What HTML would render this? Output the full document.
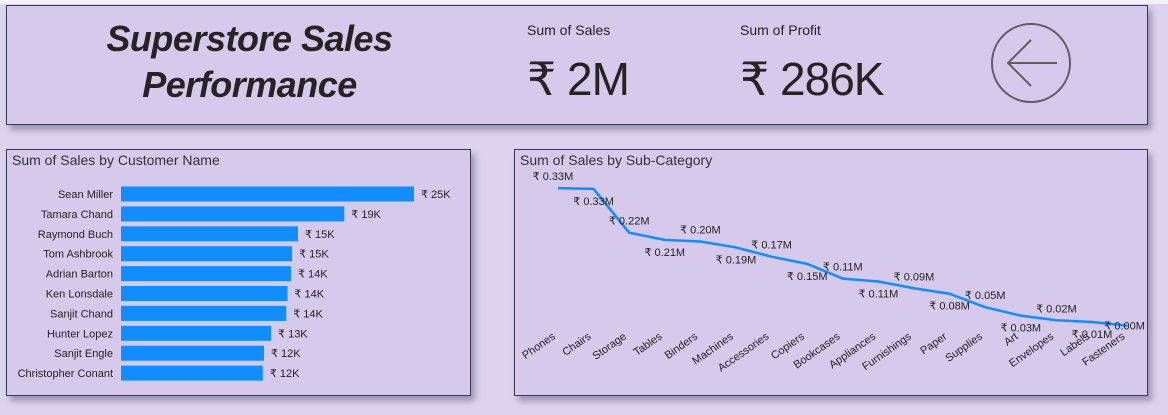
<!DOCTYPE html>
<html><head><meta charset="utf-8">
<style>
body{margin:0;width:1168px;height:415px;background:#dcd4ef;font-family:"Liberation Sans",sans-serif;position:relative;overflow:hidden}
.panel{position:absolute;background:#d5c9ec;border:1px solid #3a3a44;box-shadow:4px 5px 6px rgba(80,70,110,.45);box-sizing:border-box}
.t{position:absolute;color:#252423;white-space:nowrap}
</style></head><body>
<div style="position:absolute;left:0;top:0;width:1168px;height:4px;background:#f3f3f3"></div>
<div class="panel" style="left:6px;top:5px;width:1142px;height:120px">
  <div class="t" style="left:60px;top:10px;width:365px;text-align:center;font-size:36px;font-weight:bold;font-style:italic;line-height:46px;letter-spacing:-0.5px">Superstore Sales<br>Performance</div>
  <div class="t" style="left:520px;top:16px;font-size:14px">Sum of Sales</div>
  <div class="t" style="left:520px;top:46px;font-size:46px;letter-spacing:-1px">₹ 2M</div>
  <div class="t" style="left:733px;top:16px;font-size:14px">Sum of Profit</div>
  <div class="t" style="left:733px;top:46px;font-size:46px;letter-spacing:-1px">₹ 286K</div>
</div>
<svg style="position:absolute;left:990px;top:22px" width="82" height="82" viewBox="0 0 82 82">
  <circle cx="41" cy="41" r="39" fill="none" stroke="#605e5c" stroke-width="2"/>
  <path d="M18 41H67M41 18L18 41L41 64" fill="none" stroke="#605e5c" stroke-width="2"/>
</svg>

<div class="panel" style="left:6px;top:149px;width:465px;height:247px">
  <div class="t" style="left:5px;top:2px;font-size:14px;color:#333">Sum of Sales by Customer Name</div>
</div>
<svg id="bar" style="position:absolute;left:0;top:0" width="480" height="415"></svg>

<div class="panel" style="left:514px;top:149px;width:634px;height:247px">
  <div class="t" style="left:5px;top:2px;font-size:14px;color:#333">Sum of Sales by Sub-Category</div>
</div>
<svg id="line" style="position:absolute;left:0;top:0" width="1168" height="415"></svg>

<script>
const customers=["Sean Miller","Tamara Chand","Raymond Buch","Tom Ashbrook","Adrian Barton","Ken Lonsdale","Sanjit Chand","Hunter Lopez","Sanjit Engle","Christopher Conant"];
const customerSales=[25.0,19.05,15.1,14.6,14.5,14.2,14.1,12.8,12.2,12.1];
const customerLabels=["₹ 25K","₹ 19K","₹ 15K","₹ 15K","₹ 14K","₹ 14K","₹ 14K","₹ 13K","₹ 12K","₹ 12K"];
const subcats=["Phones","Chairs","Storage","Tables","Binders","Machines","Accessories","Copiers","Bookcases","Appliances","Furnishings","Paper","Supplies","Art","Envelopes","Labels","Fasteners"];
const subSales=[0.330,0.328,0.224,0.207,0.203,0.189,0.167,0.150,0.115,0.108,0.092,0.079,0.047,0.027,0.016,0.012,0.003];
const subLabels=["₹ 0.33M","₹ 0.33M","₹ 0.22M","₹ 0.21M","₹ 0.20M","₹ 0.19M","₹ 0.17M","₹ 0.15M","₹ 0.11M","₹ 0.11M","₹ 0.09M","₹ 0.08M","₹ 0.05M","₹ 0.03M","₹ 0.02M","₹ 0.01M","₹ 0.00M"];
const NS="http://www.w3.org/2000/svg";
function mk(p,tag,a){const e=document.createElementNS(NS,tag);for(const k in a)e.setAttribute(k,a[k]);p.appendChild(e);return e;}
const bar=document.getElementById('bar');
const bx=v=>121+v*11.72, by=i=>194+i*19.9;
customers.forEach((c,i)=>{
  const r=mk(bar,'rect',{x:121,y:by(i)-7.5,width:bx(customerSales[i])-121,height:15,fill:'#118dff'});
  
  
  const t=mk(bar,'text',{x:113,y:by(i)+4,'text-anchor':'end','font-size':11,fill:'#252423'});
  t.textContent=c;
  
  
  const v=mk(bar,'text',{x:bx(customerSales[i])+7,y:by(i)+4,'font-size':11,fill:'#252423'});
  v.textContent=customerLabels[i];
  
  
});
const ln=document.getElementById('line');
const lx=i=>558+i*35.6, ly=v=>327-v*421;
const pl=mk(ln,'polyline',{points:subSales.map((v,i)=>lx(i)+','+ly(v)).join(' '),fill:'none',stroke:'#118dff','stroke-width':2.5,'stroke-linejoin':'round'});


subcats.forEach((c,i)=>{
  const above=i%2===0;
  const lt=mk(ln,'text',{x:lx(i)+(i===0?-5:(i===16?-3:0)),y:ly(subSales[i])+(i===16?4:(above?-8:16)),'text-anchor':'middle','font-size':11,fill:'#252423'});
  lt.textContent=subLabels[i];
  
  
  const ct=mk(ln,'text',{x:lx(i)-2,y:338,'text-anchor':'end','font-size':11,fill:'#252423',transform:'rotate(-35 '+(lx(i)-2)+' 338)'});
  ct.textContent=c;
  
  
});
</script>
</body></html>
